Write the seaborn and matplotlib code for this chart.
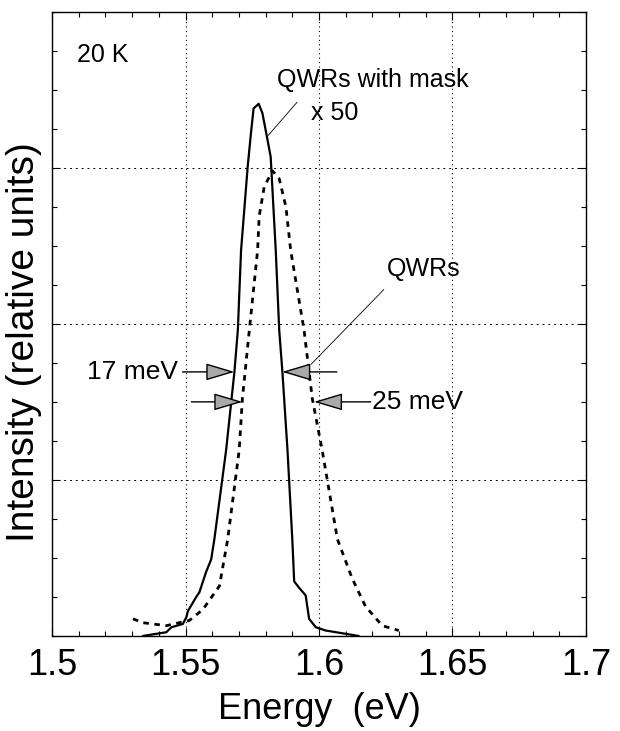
import numpy as np
import pandas as pd
import seaborn as sns
import matplotlib.pyplot as plt
from matplotlib.ticker import MultipleLocator, NullFormatter

# ---------------- datos ----------------
energia_mask = [1.534, 1.5428, 1.5447, 1.549, 1.5503, 1.5509, 1.554, 1.5552, 1.5577,
                1.5596, 1.5608, 1.5652, 1.5683, 1.5696, 1.5708, 1.5733, 1.5745, 1.5755,
                1.5774, 1.5788, 1.5807, 1.5819, 1.5838, 1.5851, 1.5863, 1.5882, 1.59,
                1.5907, 1.5925, 1.595, 1.5963, 1.5988, 1.6025, 1.6149]
intens_mask = [0.0, 0.024, 0.056, 0.077, 0.12, 0.16, 0.25, 0.28, 0.41,
               0.49, 0.62, 1.19, 1.69, 1.96, 2.47, 3.01, 3.22, 3.38,
               3.41, 3.35, 3.18, 3.07, 2.47, 1.96, 1.69, 1.19, 0.62,
               0.35, 0.31, 0.26, 0.11, 0.056, 0.035, 0.0]

energia_qwr = [1.5303, 1.534, 1.5428, 1.5515, 1.5565, 1.5627, 1.5658, 1.5701, 1.5713,
               1.5739, 1.577, 1.5776, 1.5795, 1.5826, 1.5851, 1.5876, 1.5894, 1.5944,
               1.5975, 1.6012, 1.6069, 1.6124, 1.6174, 1.6237, 1.6299]
intens_qwr = [0.11, 0.085, 0.066, 0.10, 0.17, 0.32, 0.62, 1.19, 1.52,
              1.96, 2.47, 2.69, 2.88, 2.98, 2.93, 2.75, 2.47, 1.96,
              1.52, 1.19, 0.62, 0.37, 0.19, 0.066, 0.035]

x_ticks = [1.5, 1.55, 1.6, 1.65, 1.7]
x_tick_labels = ["1.5", "1.55", "1.6", "1.65", "1.7"]

df_mask = pd.DataFrame({"E": energia_mask, "I": intens_mask})
df_qwr = pd.DataFrame({"E": energia_qwr, "I": intens_qwr})

# ---------------- estilo ----------------
sns.set_theme(style="white")
plt.rcParams["font.family"] = ["Liberation Sans", "DejaVu Sans"]
plt.rcParams["text.color"] = "black"
plt.rcParams["axes.labelcolor"] = "black"
plt.rcParams["xtick.color"] = "black"
plt.rcParams["ytick.color"] = "black"

fig = plt.figure(figsize=(6.2, 7.31), dpi=100)
ax = fig.add_axes([0.084, 0.130, 0.861, 0.854])

sns.lineplot(data=df_mask, x="E", y="I", ax=ax, color="black", lw=1.6, sort=False)
sns.lineplot(data=df_qwr, x="E", y="I", ax=ax, color="black", lw=2.0, sort=False)
ax.lines[-1].set_dashes((2, 2))

ax.set_xlim(1.5, 1.7)
ax.set_ylim(0, 4)

ax.xaxis.set_major_locator(MultipleLocator(0.05))
ax.xaxis.set_minor_locator(MultipleLocator(0.01))
ax.yaxis.set_major_locator(MultipleLocator(1))
ax.yaxis.set_minor_locator(MultipleLocator(0.25))
ax.set_xticks(x_ticks)
ax.set_xticklabels(x_tick_labels)
ax.yaxis.set_major_formatter(NullFormatter())

ax.tick_params(which="both", direction="in", top=True, right=True,
               bottom=True, left=True, color="black", width=0.8)
ax.tick_params(which="major", length=6, labelsize=26, pad=9)
ax.tick_params(which="minor", length=3.5)

for s in ax.spines.values():
    s.set_color("black")
    s.set_linewidth(1.0)

ax.grid(True, which="major", axis="y", color="black", ls=(0, (2, 4)), lw=0.7)
ax.grid(True, which="major", axis="x", color="black", ls=(0, (1, 3)), lw=0.8)

ax.set_xlabel("Energy  (eV)", fontsize=26, labelpad=6)
ax.set_ylabel("Intensity (relative units)", fontsize=28)
ax.yaxis.set_label_coords(-0.018, 0.47)

# ---------------- textos ----------------
ax.text(1.5093, 3.72, "20 K", fontsize=18, va="center", ha="left")
ax.text(1.5843, 3.56, "QWRs with mask", fontsize=18, va="center", ha="left")
ax.text(1.597, 3.35, "x 50", fontsize=18, va="center", ha="left")
ax.text(1.6254, 2.35, "QWRs", fontsize=18, va="center", ha="left")
ax.text(1.5470, 1.692, "17 meV", fontsize=19, va="center", ha="right")
ax.text(1.6198, 1.50, "25 meV", fontsize=19, va="center", ha="left")

# lineas guia
ax.plot([1.5918, 1.5806], [3.42, 3.20], color="black", lw=0.6)
ax.plot([1.6243, 1.5970], [2.22, 1.74], color="black", lw=0.6)

# flechas FWHM
flecha = dict(arrowstyle="-|>,head_length=1.5,head_width=0.45",
              fc="darkgray", ec="black", lw=1.0, shrinkA=0, shrinkB=0)
ax.annotate("", xy=(1.5683, 1.692), xytext=(1.5489, 1.692), arrowprops=flecha)
ax.annotate("", xy=(1.5862, 1.692), xytext=(1.6067, 1.692), arrowprops=flecha)
ax.annotate("", xy=(1.5713, 1.50), xytext=(1.5522, 1.50), arrowprops=flecha)
ax.annotate("", xy=(1.5981, 1.50), xytext=(1.6194, 1.50), arrowprops=flecha)

fig.savefig("out.png", dpi=100)
